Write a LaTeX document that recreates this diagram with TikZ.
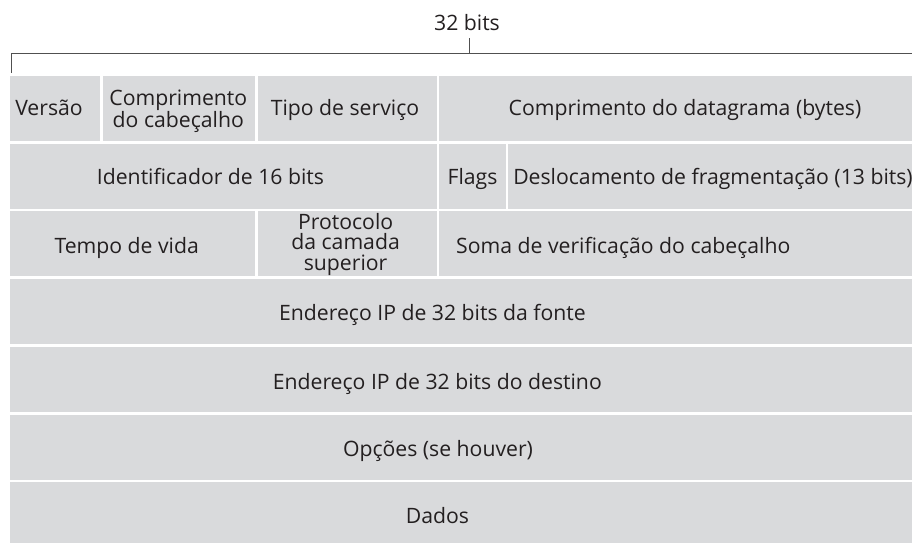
\documentclass[tikz,border=0pt]{standalone}
\usepackage{fontspec}
\setmainfont{Open Sans}
\definecolor{fieldgray}{RGB}{217,218,220}
\definecolor{inkgray}{RGB}{35,31,32}
\definecolor{rulegray}{RGB}{80,80,80}

\begin{document}
\begin{tikzpicture}[x=1pt,y=-1pt]
	\useasboundingbox (0,0) rectangle (912,542);
	\begin{scope}[fill=fieldgray]
	\fill (10,76) rectangle (100.3,141);
	\fill (102.8,76) rectangle (255.2,141);
	\fill (257.8,76) rectangle (436.7,141);
	\fill (439.3,76) rectangle (912,141);
	\fill (10,143.7) rectangle (436.7,208.7);
	\fill (439.3,143.7) rectangle (505.7,208.7);
	\fill (508.3,143.7) rectangle (912,208.7);
	\fill (10,211.4) rectangle (255.2,276.4);
	\fill (257.8,211.4) rectangle (436.7,276.4);
	\fill (439.3,211.4) rectangle (912,276.4);
	\foreach \t in {279.1,346.8,414.5,482.2}
		\fill (10,\t) rectangle (912,\t+65);
	\end{scope}
	\begin{scope}[every node/.style={inner sep=0pt,anchor=base,align=center,text=inkgray,font=\fontsize{21.2}{20.6}\selectfont}]
	\node (bits) at (467,30) {32 bits};
	\node (ver) at (49,115) {Versão};
	\node (hlen) at (178.3,127.7) {Comprimento\\do cabeçalho};
	\node (tos) at (345,115) {Tipo de serviço};
	\node (len) at (685,115) {Comprimento do datagrama (bytes)};
	\node (id) at (210.5,184) {Identificador de 16 bits};
	\node (flg) at (472.5,184) {Flags};
	\node (off) at (713,184) {Deslocamento de fragmentação (13 bits)};
	\node (ttl) at (126.7,253.3) {Tempo de vida};
	\node (proto) at (345.6,270.4) {Protocolo\\da camada\\superior};
	\node (csum) at (623.3,253.3) {Soma de verificação do cabeçalho};
	\node (src) at (432.5,320.7) {Endereço IP de 32 bits da fonte};
	\node (dst) at (437.3,389.3) {Endereço IP de 32 bits do destino};
	\node (opt) at (438,456) {Opções (se houver)};
	\node (data) at (437.5,523.3) {Dados};
	\end{scope}
	\coordinate (brL) at (11,72.7);
	\coordinate (brC) at (469.3,53.3);
	\coordinate (brR) at (912,53.3);
	\draw [rulegray, line width=1pt] (brL) -- (brL |- brC) -- (brR);
	\draw [rulegray, line width=1pt] (brC) -- ++(0,-15);
\end{tikzpicture}
\end{document}
